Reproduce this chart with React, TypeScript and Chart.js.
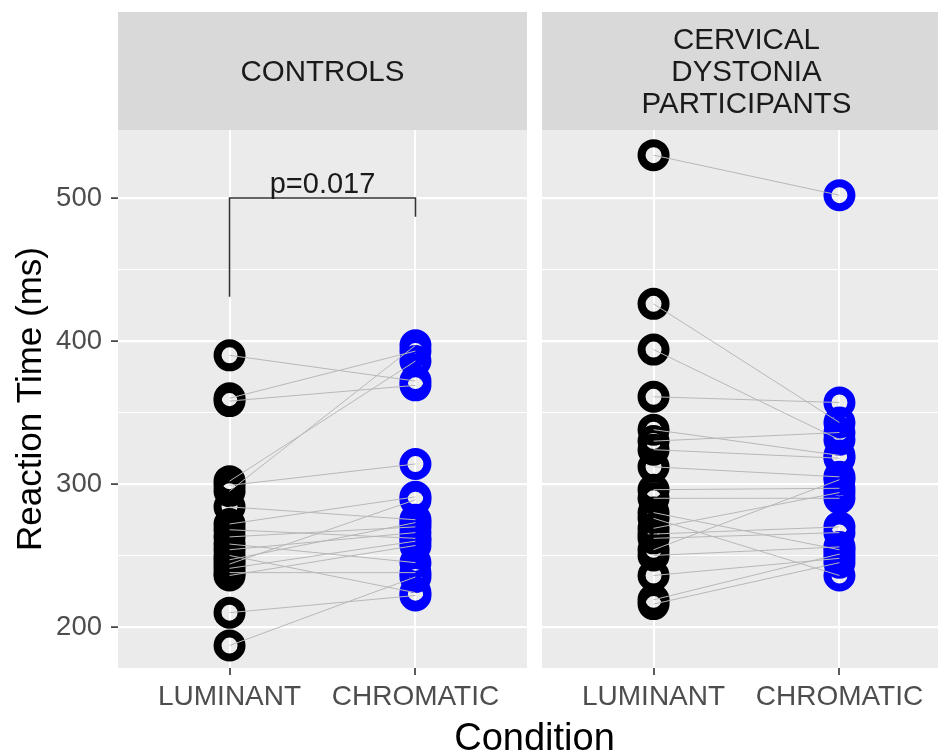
import React, { useEffect, useRef } from 'react';
import { Chart, registerables } from 'chart.js';

Chart.register(...registerables);

const FONT = "'Liberation Sans', Arial, Helvetica, sans-serif";

// ---- data ----
const categories = ['LUMINANT', 'CHROMATIC'];
const controlsStrip = ['CONTROLS'];
const dystoniaStrip = ['CERVICAL', 'DYSTONIA', 'PARTICIPANTS'];
const yTickValues = [200, 250, 300, 350, 400, 450, 500];
const yTickLabels = ['200', '300', '400', '500'];
const yAxisTitle = 'Reaction Time (ms)';
const xAxisTitle = 'Condition';

const controlsLuminant = [390, 360, 358, 302, 299, 295, 284, 272, 268, 263, 258, 254, 250, 247, 244, 241, 238, 236, 210, 187];
const controlsChromatic = [372, 393, 369, 386, 314, 397, 275, 291, 262, 270, 245, 266, 224, 273, 289, 260, 238, 257, 222, 235];

const dystoniaLuminant = [530, 426, 394, 361, 338, 330, 324, 312, 296, 290, 280, 276, 269, 265, 262, 254, 250, 236, 219, 216];
const dystoniaChromatic = [502, 343, 331, 357, 320, 336, 318, 305, 297, 290, 254, 236, 294, 270, 266, 303, 256, 248, 251, 245];

const bracketX = [1, 1, 2, 2];
const bracketY = [431, 500, 500, 487];
const pLabel = 'p=0.017';
const pLabelValue = 500;

const Y_MIN = 171.3;
const Y_MAX = 547.6;

function panelPlugin(stripLines: string[], showP: boolean) {
  return {
    id: 'panelDeco',
    beforeDraw(chart: any) {
      const { ctx, chartArea } = chart;
      ctx.save();
      ctx.fillStyle = '#EBEBEB';
      ctx.fillRect(chartArea.left, chartArea.top, chartArea.right - chartArea.left, chartArea.bottom - chartArea.top);
      ctx.fillStyle = '#D9D9D9';
      ctx.fillRect(chartArea.left, 12, chartArea.right - chartArea.left, chartArea.top - 12);
      ctx.fillStyle = '#1A1A1A';
      ctx.font = `29.5px ${FONT}`;
      ctx.textAlign = 'center';
      ctx.textBaseline = 'middle';
      const cx = (chartArea.left + chartArea.right) / 2;
      const midY = (12 + chartArea.top) / 2 + 2;
      const lh = 32;
      stripLines.forEach((t, i) => {
        ctx.fillText(t, cx, midY + (i - (stripLines.length - 1) / 2) * lh);
      });
      ctx.restore();
    },
    afterDraw(chart: any) {
      if (!showP) return;
      const { ctx } = chart;
      const xs = chart.scales.x;
      const ys = chart.scales.y;
      ctx.save();
      ctx.fillStyle = '#1A1A1A';
      ctx.font = `29px ${FONT}`;
      ctx.textAlign = 'center';
      ctx.textBaseline = 'alphabetic';
      ctx.fillText(pLabel, xs.getPixelForValue(1.5), ys.getPixelForValue(pLabelValue) - 5);
      ctx.restore();
    },
  };
}

function buildConfig(lum: number[], chr: number[], stripLines: string[], isLeft: boolean): any {
  const lines = lum.map((v, i) => ({
    type: 'line',
    data: [
      { x: 1, y: v },
      { x: 2, y: chr[i] },
    ],
    borderColor: '#B8B8B8',
    borderWidth: 1,
    pointRadius: 0,
    fill: false,
    order: 0,
  }));
  const pointStyle = {
    pointRadius: 12,
    pointBorderWidth: 8,
    pointBackgroundColor: 'rgba(0,0,0,0)',
    showLine: false,
    order: 2,
  };
  const points = [
    { type: 'scatter', data: lum.map((v) => ({ x: 1, y: v })), pointBorderColor: '#000000', ...pointStyle },
    { type: 'scatter', data: chr.map((v) => ({ x: 2, y: v })), pointBorderColor: '#0000FF', ...pointStyle },
  ];
  const extra: any[] = [];
  if (isLeft) {
    extra.push({
      type: 'line',
      data: bracketX.map((x, i) => ({ x, y: bracketY[i] })),
      borderColor: '#333333',
      borderWidth: 1.6,
      pointRadius: 0,
      fill: false,
      order: -1,
    });
  }
  return {
    type: 'scatter',
    data: { datasets: [...extra, ...lines, ...points] },
    options: {
      animation: false,
      responsive: true,
      maintainAspectRatio: false,
      events: [],
      layout: {
        autoPadding: false,
        padding: isLeft ? { top: 130, left: 0, right: 8, bottom: 0 } : { top: 130, left: 7, right: 4, bottom: 0 },
      },
      plugins: { legend: { display: false }, tooltip: { enabled: false } },
      scales: {
        x: {
          type: 'linear',
          min: 0.4,
          max: 2.6,
          afterBuildTicks: (s: any) => {
            s.ticks = [{ value: 1 }, { value: 2 }];
          },
          afterFit: (s: any) => {
            s.height = 85;
            s.paddingLeft = 0;
            s.paddingRight = 0;
          },
          ticks: {
            autoSkip: false,
            maxRotation: 0,
            padding: 5,
            color: '#4D4D4D',
            font: { family: FONT, size: 28 },
            callback: (v: any) => categories[Math.round(v) - 1] ?? '',
          },
          grid: {
            color: '#FFFFFF',
            lineWidth: 2,
            tickColor: '#333333',
            tickLength: 7,
            tickWidth: 1.6,
          },
          border: { display: false },
        },
        y: {
          type: 'linear',
          min: Y_MIN,
          max: Y_MAX,
          afterBuildTicks: (s: any) => {
            s.ticks = yTickValues.map((v) => ({ value: v }));
          },
          afterFit: (s: any) => {
            s.width = isLeft ? 118 : 0;
            s.paddingTop = 0;
            s.paddingBottom = 0;
          },
          ticks: {
            display: isLeft,
            autoSkip: false,
            padding: 9,
            color: '#4D4D4D',
            font: { family: FONT, size: 27.5 },
            callback: (v: any) => {
              const idx = [200, 300, 400, 500].indexOf(v);
              return idx >= 0 ? yTickLabels[idx] : '';
            },
          },
          title: isLeft
            ? {
                display: true,
                text: yAxisTitle,
                color: '#000000',
                font: { family: FONT, size: 35 },
                padding: { top: 10, bottom: 0 },
              }
            : { display: false },
          grid: {
            color: '#FFFFFF',
            lineWidth: (c: any) => (c.tick && c.tick.value % 100 === 0 ? 2.2 : 1.1),
            drawTicks: isLeft,
            tickColor: (c: any) => (c.tick && c.tick.value % 100 === 0 ? '#333333' : 'rgba(0,0,0,0)'),
            tickLength: 7,
            tickWidth: 1.6,
          },
          border: { display: false },
        },
      },
    },
    plugins: [panelPlugin(stripLines, isLeft)],
  };
}

export default function App() {
  const leftRef = useRef<HTMLCanvasElement>(null);
  const rightRef = useRef<HTMLCanvasElement>(null);

  useEffect(() => {
    const c1 = new Chart(leftRef.current as HTMLCanvasElement, buildConfig(controlsLuminant, controlsChromatic, controlsStrip, true));
    const c2 = new Chart(rightRef.current as HTMLCanvasElement, buildConfig(dystoniaLuminant, dystoniaChromatic, dystoniaStrip, false));
    return () => {
      c1.destroy();
      c2.destroy();
    };
  }, []);

  return (
    <div style={{ position: 'absolute', left: 0, top: 0, width: 938, height: 753, overflow: 'hidden', background: '#FFFFFF' }}>
      <div style={{ position: 'absolute', left: 0, top: 0, width: 535, height: 753 }}>
        <canvas ref={leftRef} />
      </div>
      <div style={{ position: 'absolute', left: 535, top: 0, width: 420, height: 753 }}>
        <canvas ref={rightRef} />
      </div>
      <div
        style={{
          position: 'absolute',
          left: 118,
          top: 718,
          width: 833,
          textAlign: 'center',
          fontFamily: FONT,
          fontSize: 38,
          lineHeight: '38px',
          color: '#000000',
          whiteSpace: 'nowrap',
        }}
      >
        {xAxisTitle}
      </div>
    </div>
  );
}
